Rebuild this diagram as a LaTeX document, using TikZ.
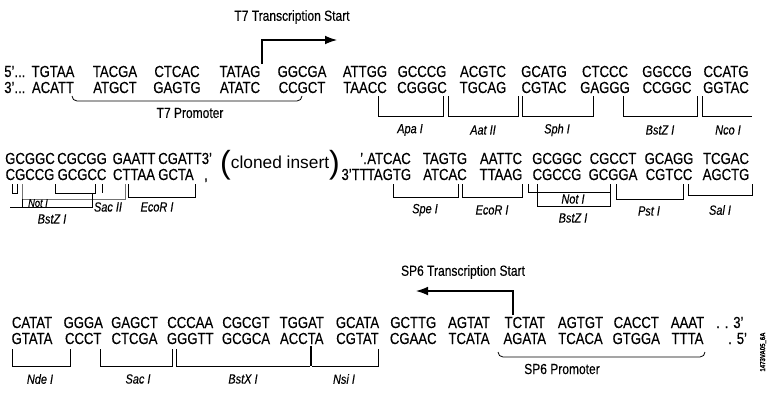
\documentclass[tikz,border=0pt]{standalone}
\usepackage{fontspec}
\setmainfont{Liberation Sans}
\newfontfamily\seqfont{Liberation Sans}[FakeStretch=0.82, FakeBold=0.3]
\usetikzlibrary{arrows.meta}

\begin{document}
\begin{tikzpicture}[x=0.75pt, y=-0.75pt,
        seq/.style={inner sep=0pt, anchor=base, font=\seqfont\fontsize{12}{14}\selectfont},
        site/.style={inner sep=0pt, font=\seqfont\fontsize{10}{11}\selectfont\itshape},
        caption/.style={inner sep=0pt, font=\seqfont\fontsize{11}{12}\selectfont},
        brk/.style={draw=black, line width=0.6pt},
        line/.style={draw=black, line width=0.8pt, -{Latex[length=9pt,width=6.5pt]}}]

    \useasboundingbox (0,0) rectangle (773,396);

    % --- first line: T7 side
    \node [caption] (t7title) at (292,17) {T7 Transcription Start};
    \coordinate (t7start) at (262,64);
    \coordinate (t7end) at (337,40);
    \path [line] (t7start) |- (t7end);

    \node [seq, anchor=base west] (fivea) at (4,77) {5’...};
    \node [seq, anchor=base west] (threea) at (4,93) {3’...};
    \foreach \x/\t/\b [count=\i] in {53/TGTAA/ACATT, 115/TACGA/ATGCT, 177/CTCAC/GAGTG, 240/TATAG/ATATC,
            302/GGCGA/CCGCT, 365/ATTGG/TAACC, 422/GCCCG/CGGGC, 483/ACGTC/TGCAG, 544/GCATG/CGTAC,
            605/CTCCC/GAGGG, 667/GGCCG/CCGGC, 726/CCATG/GGTAC}{
        \node [seq] (ta\i) at (\x,77) {\t};
        \node [seq] (ba\i) at (\x,93) {\b};
    }

    \draw [brk] (72,96) to[out=-90,in=180] (77,101) -- (297,101) to[out=0,in=-90] (302,96);
    \node [caption] (t7prom) at (190,113) {T7 Promoter};

    \foreach \l/\r/\lx/\n [count=\i] in {378/443/410/Apa I, 448/518/483/Aat II, 522/593/557/Sph I, 623/697/660/BstZ I}{
        \draw [brk] (\l,96) |- (\r,116) -- (\r,96);
        \node [site] (sa\i) at (\lx,130) {\n};
    }
    \draw [brk] (702,96) |- (752,116);
    \node [site] (ncoa) at (728,130) {Nco I};

    % --- second line: cloned insert
    \foreach \x/\t/\b [count=\i] in {30/GCGGC/CGCCG, 82/CGCGG/GCGCC, 134/GAATT/CTTAA}{
        \node [seq] (tb\i) at (\x,164) {\t};
        \node [seq] (bb\i) at (\x,180) {\b};
    }
    \node [seq, anchor=base west] (tb4) at (158,164) {CGATT3’};
    \node [seq, anchor=base west] (bb4) at (158,180) {GCTA};
    \node [seq] (bb5) at (206,180) {,};

    \node [inner sep=0pt, anchor=base, font=\fontsize{13}{15}\selectfont] (insert) at (280,168)
        {{\fontsize{24}{24}\selectfont\raisebox{-4pt}{(}}cloned insert{\fontsize{24}{24}\selectfont\raisebox{-4pt}{)}}};

    \node [seq, anchor=base east] (dotc) at (367,164) {’.};
    \node [seq, anchor=base east] (threec) at (368,180) {3’TT};
    \foreach \x/\t/\b [count=\i] in {389/ATCAC/TAGTG, 445/TAGTG/ATCAC, 501/AATTC/TTAAG, 557/GCGGC/CGCCG,
            613/CGCCT/GCGGA, 669/GCAGG/CGTCC, 726/TCGAC/AGCTG}{
        \node [seq] (tc\i) at (\x,164) {\t};
        \node [seq] (bc\i) at (\x,180) {\b};
    }

    % sites left of the insert
    \draw [brk] (12,184) |- (17,193) -- (17,184);
    \draw [brk, draw=black!55] (22,184) |- (125,199) -- (125,184);
    \draw [brk] (22,199) |- (92,207) -- (92,193);
    \draw [brk] (10,207) -- (22,207);
    \draw [brk] (55,184) |- (95,193) -- (95,184);
    \draw [brk] (102,184) -- (102,193);
    \draw [brk] (128,184) |- (195,197) -- (195,184);
    \node [site, font=\seqfont\fontsize{8.5}{9}\selectfont\itshape] (notb) at (38,203) {Not I};
    \node [site] (bstb) at (52,219) {BstZ I};
    \node [site] (sacb) at (108,207) {Sac II};
    \node [site] (ecob) at (157,207) {EcoR I};

    % sites right of the insert
    \draw [brk] (393,184) |- (458,197) -- (458,184);
    \draw [brk] (462,184) |- (522,197) -- (522,184);
    \draw [brk] (528,184) |- (610,192) -- (610,184);
    \draw [brk] (537,184) |- (610,206) -- (610,192);
    \draw [brk] (616,184) |- (683,199) -- (683,184);
    \draw [brk] (688,184) |- (752,195) -- (752,184);
    \node [site] (spec) at (425,210) {Spe I};
    \node [site] (ecoc) at (492,210) {EcoR I};
    \node [site] (notc) at (573,199) {Not I};
    \node [site] (bstc) at (573,218) {BstZ I};
    \node [site] (pstc) at (649,211) {Pst I};
    \node [site] (salc) at (720,210) {Sal I};

    % --- third line: SP6 side
    \node [caption] (sp6title) at (463,272) {SP6 Transcription Start};
    \coordinate (sp6start) at (513,315);
    \coordinate (sp6end) at (416,291);
    \path [line] (sp6start) |- (sp6end);

    \foreach \x/\t/\b [count=\i] in {32/CATAT/GTATA, 83.25/GGGA/CCCT, 134.5/GAGCT/CTCGA, 190.25/CCCAA/GGGTT,
            246/CGCGT/GCGCA, 301.75/TGGAT/ACCTA, 357.5/GCATA/CGTAT, 413.25/GCTTG/CGAAC, 469/AGTAT/TCATA,
            524.75/TCTAT/AGATA, 580.5/AGTGT/TCACA, 636.25/CACCT/GTGGA, 687.5/AAAT/TTTA}{
        \node [seq] (td\i) at (\x,328) {\t};
        \node [seq] (bd\i) at (\x,344) {\b};
    }
    \node [seq, anchor=base west] (threed) at (716,328) {. . 3’};
    \node [seq, anchor=base west] (fived) at (728,344) {. 5’};

    \draw [brk] (12,349) |- (70,366) -- (70,349);
    \draw [brk] (100,349) |- (172,366) -- (172,349);
    \draw [brk] (176,349) |- (310,366);
    \draw [brk] (312,366) -| (378,349);
    \draw [brk, line width=1.3pt] (311,346) -- (311,366);
    \node [site] (nded) at (40,379) {Nde I};
    \node [site] (sacd) at (138,379) {Sac I};
    \node [site] (bsxd) at (243,379) {BstX I};
    \node [site] (nsid) at (344,379) {Nsi I};

    \draw [brk] (498,352) to[out=-90,in=180] (503,357) -- (700,357) to[out=0,in=-90] (705,352);
    \node [caption] (sp6prom) at (562,369) {SP6 Promoter};

    \node [inner sep=0pt, rotate=90, font=\seqfont\fontsize{5.5}{6}\selectfont\bfseries] (figcode) at (763,352) {1473VA05\_6A};
\end{tikzpicture}
\end{document}
